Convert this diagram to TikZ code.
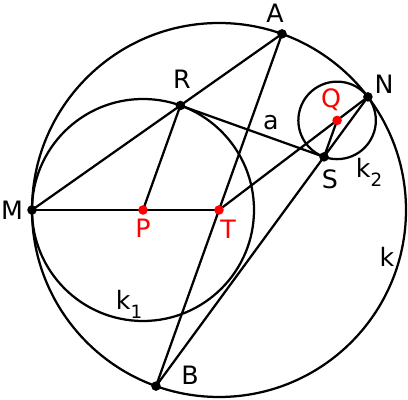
\documentclass[tikz,border=0pt]{standalone}
\usepackage{fontspec}
\setmainfont{DejaVu Sans}
\usetikzlibrary{positioning}

\definecolor{ptred}{RGB}{255,0,0}
\tikzset{
  lbl/.style = {inner sep=0pt, font=\fontsize{18}{20}\selectfont},
  redlbl/.style = {lbl, text=ptred},
  geo/.style = {line width=1.6pt, line cap=round}
}
\newcommand{\sub}[2]{#1\raisebox{-0.35em}{\fontsize{13}{13}\selectfont #2}}

\begin{document}
\begin{tikzpicture}[x=0.025cm, y=0.025cm]
    \useasboundingbox (0,0) rectangle (408,400);
    % points
    \coordinate (T) at (219,190);
    \coordinate (M) at (32,190);
    \coordinate (P) at (143,190);
    \coordinate (R) at (180.4,294.5);
    \coordinate (A) at (282.0,366.1);
    \coordinate (B) at (156.0,13.9);
    \coordinate (N) at (367.9,303.1);
    \coordinate (Q) at (337.1,279.6);
    \coordinate (S) at (324.0,243.1);

    \draw[geo] (T) circle[radius=187];
    \draw[geo] (P) circle[radius=111];
    \draw[geo] (Q) circle[radius=38.75];

    \draw[geo] (M) -- (A);
    \draw[geo] (M) -- (T);
    \draw[geo] (P) -- (R);
    \draw[geo] (R) -- (S);
    \draw[geo] (A) -- (B);
    \draw[geo] (B) -- (N);
    \draw[geo] (T) -- (N);
    \draw[geo] (Q) -- (S);

    \foreach \p in {M,R,A,N,S,B}
      \fill (\p) circle[radius=3.4pt];
    \foreach \p in {P,T,Q}
      \fill[ptred] (\p) circle[radius=3.4pt];

    \node[lbl] (lM) at (12,190) {M};
    \node[lbl] (lR) at (182,321) {R};
    \node[lbl] (lA) at (275,387) {A};
    \node[lbl] (lN) at (384,316) {N};
    \node[redlbl] (lQ) at (331,300) {Q};
    \node[lbl] (la) at (271,277) {a};
    \node[lbl] (lS) at (330,221) {S};
    \node[lbl] (lk2) at (369,228) {\sub{k}{2}};
    \node[redlbl] (lP) at (143,172) {P};
    \node[redlbl] (lT) at (228,171) {T};
    \node[lbl] (lk) at (387,143) {k};
    \node[lbl] (lk1) at (129,96) {\sub{k}{1}};
    \node[lbl] (lB) at (190,25) {B};
\end{tikzpicture}
\end{document}
